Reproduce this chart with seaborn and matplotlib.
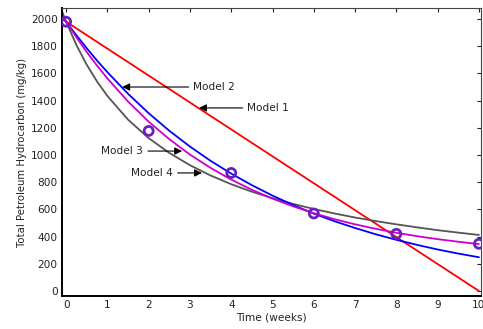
import matplotlib
matplotlib.use("Agg")
import matplotlib.pyplot as plt
import seaborn as sns
import pandas as pd

# Measured total petroleum hydrocarbon (mg/kg)
obs_weeks = [0, 2, 4, 6, 8, 10]
obs_tph = [1980, 1177, 868, 570, 420, 347]

# Model predictions sampled along the time axis (weeks)
model_weeks = [-0.1, 0, 0.25, 0.5, 0.75, 1, 1.5, 2, 2.5, 3, 3.5, 4, 4.5, 5,
               5.5, 6, 6.5, 7, 7.5, 8, 8.5, 9, 9.5, 10]
model1_weeks = [-0.1, 10]
model1_tph = [2000, 0]
model2_tph = [2022, 1980, 1880, 1785, 1694, 1609, 1450, 1307, 1178, 1062, 957,
              863, 778, 701, 632, 569, 513, 463, 417, 376, 339, 305, 275, 248]
model3_tph = [2028, 1980, 1865, 1757, 1657, 1563, 1393, 1245, 1116, 1003, 905,
              819, 744, 679, 622, 572, 528, 490, 457, 428, 403, 381, 362, 345]
model4_tph = [2058, 1980, 1808, 1663, 1540, 1434, 1260, 1124, 1015, 925, 849,
              785, 730, 682, 640, 603, 570, 540, 514, 490, 468, 447, 429, 412]

x_ticks = list(range(0, 11))
y_ticks = list(range(0, 2001, 200))

# Label text, label anchor (weeks, mg/kg), arrow tip (weeks, mg/kg)
labels = ["Model 1", "Model 2", "Model 3", "Model 4"]
label_pos = [(4.39, 1346), (3.08, 1500), (1.87, 1029), (2.59, 868)]
tip_pos = [(3.22, 1346), (1.36, 1500), (2.81, 1029), (3.29, 868)]
label_align = ["left", "left", "right", "right"]

sns.set_style("white")
plt.rcParams["font.family"] = ["DejaVu Sans"]

fig = plt.figure(figsize=(4.83, 3.29), dpi=100)
ax = fig.add_axes([62 / 483, 33 / 329, 419 / 483, 288 / 329])

df2 = pd.DataFrame({"t": model_weeks, "c": model2_tph})
df3 = pd.DataFrame({"t": model_weeks, "c": model3_tph})
df4 = pd.DataFrame({"t": model_weeks, "c": model4_tph})
df1 = pd.DataFrame({"t": model1_weeks, "c": model1_tph})

sns.lineplot(data=df1, x="t", y="c", color="#ff0000", lw=1.3, ax=ax, sort=False)
sns.lineplot(data=df4, x="t", y="c", color="#555555", lw=1.3, ax=ax, sort=False)
sns.lineplot(data=df2, x="t", y="c", color="#0000ff", lw=1.3, ax=ax, sort=False)
sns.lineplot(data=df3, x="t", y="c", color="#cc00cc", lw=1.3, ax=ax, sort=False)

sns.scatterplot(x=obs_weeks, y=obs_tph, marker="o", s=42, facecolor="none",
                edgecolor="#6a1fc0", linewidth=2.0, ax=ax, zorder=5)

for text, lp, tp, ha in zip(labels, label_pos, tip_pos, label_align):
    ax.annotate(text, xy=tp, xytext=lp, ha=ha, va="center", fontsize=7.6,
                color="#222222",
                arrowprops=dict(arrowstyle="-|>", color="black", lw=0.8,
                                mutation_scale=11, shrinkA=1, shrinkB=0))

ax.set_xlim(-0.1, 10.05)
ax.set_ylim(-37, 2081)
ax.set_xticks(x_ticks)
ax.set_yticks(y_ticks)
ax.tick_params(direction="in", length=3, width=0.8, labelsize=7.6,
               top=True, right=True, pad=3, colors="#222222")
ax.tick_params(axis="y", labelright=False)
ax.tick_params(axis="x", labeltop=False)

for side in ["left", "bottom"]:
    ax.spines[side].set_linewidth(1.4)
    ax.spines[side].set_color("black")
for side in ["top", "right"]:
    ax.spines[side].set_linewidth(0.8)
    ax.spines[side].set_color("#444444")

ax.set_xlabel("Time (weeks)", fontsize=7.6, color="#222222", labelpad=2)
ax.set_ylabel("Total Petroleum Hydrocarbon (mg/kg)", fontsize=7.3,
              color="#222222", labelpad=3)

fig.savefig("out.png", dpi=100)
